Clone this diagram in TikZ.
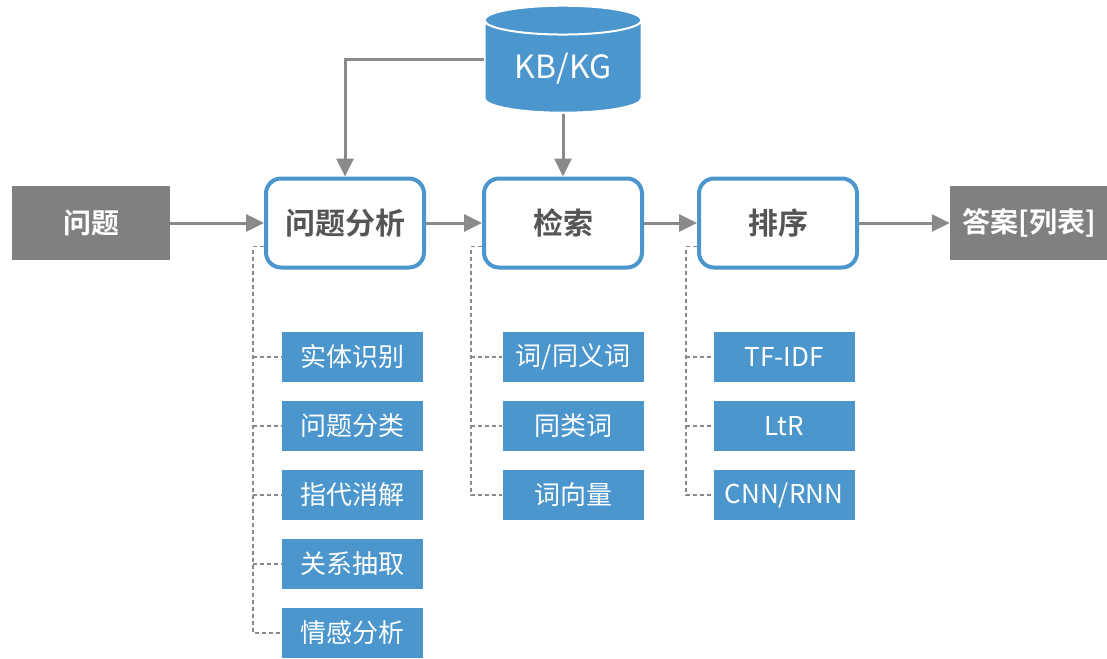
\documentclass[tikz,border=0pt]{standalone}
\usepackage{fontspec}
\usetikzlibrary{arrows.meta,shapes.geometric}
\setmainfont{Noto Sans CJK SC}[BoldFont={Noto Sans CJK SC Bold}]
\definecolor{kbblue}{HTML}{4A96CD}
\definecolor{boxgray}{HTML}{808080}
\definecolor{linegray}{HTML}{8A8A8A}
\definecolor{textgray}{HTML}{555555}
\tikzset{
    step-box/.style = {draw=kbblue, fill=white, line width=4pt, rectangle, rounded corners=15pt, minimum width=158pt, minimum height=89pt, text=textgray, font=\fontsize{30}{30}\selectfont\bfseries},
    io-box/.style = {fill=boxgray, rectangle, minimum width=158pt, minimum height=74pt, text=white, font=\fontsize{28}{28}\selectfont\bfseries},
    sub-box/.style = {fill=kbblue, rectangle, minimum width=141pt, minimum height=50pt, text=white, font=\fontsize{26}{26}\selectfont},
    kb-store/.style = {cylinder, shape border rotate=90, aspect=0.28, fill=kbblue, draw=white, line width=2pt, minimum width=157pt, minimum height=107pt, text=white, font=\fontsize{32}{32}\selectfont},
    flow-arrow/.style = {draw=linegray, line width=3pt, -{Triangle[length=18pt,width=17pt]}},
    tree-line/.style = {draw=linegray, line width=1.3pt, dash pattern=on 4pt off 3pt},
}
\begin{document}
\begin{tikzpicture}[x=1pt, y=-1pt]
\useasboundingbox (0,0) rectangle (1107,658);

% main flow
\node[io-box] (question) at (91,223) {问题};
\node[step-box] (analysis) at (345,223) {问题分析};
\node[step-box] (retrieval) at (563,223) {检索};
\node[step-box] (ranking) at (778,223) {排序};
\node[io-box] (answer) at (1029,223) {答案[列表]};
\node[kb-store] (kb) at (563,69) {KB/KG};

\draw[flow-arrow] (question) -- (analysis);
\draw[flow-arrow] (analysis) -- (retrieval);
\draw[flow-arrow] (retrieval) -- (ranking);
\draw[flow-arrow] (ranking) -- (answer);
\draw[flow-arrow] ([yshift=9pt]kb.west) -| (analysis.north);
\draw[flow-arrow] (kb.south) -- (retrieval.north);

% sub tasks
\node[sub-box] (ana-1) at (352,357) {实体识别};
\node[sub-box] (ana-2) at (352,426) {问题分类};
\node[sub-box] (ana-3) at (352,495) {指代消解};
\node[sub-box] (ana-4) at (352,564) {关系抽取};
\node[sub-box] (ana-5) at (352,633) {情感分析};

\node[sub-box] (ret-1) at (573,357) {词/同义词};
\node[sub-box] (ret-2) at (573,426) {同类词};
\node[sub-box] (ret-3) at (573,495) {词向量};

\node[sub-box] (rank-1) at (784,357) {TF-IDF};
\node[sub-box] (rank-2) at (784,426) {LtR};
\node[sub-box] (rank-3) at (784,495) {CNN/RNN};

\coordinate (ana-trunk) at ([xshift=-11pt,yshift=23pt]analysis.south west);
\coordinate (ret-trunk) at ([xshift=-11pt,yshift=23pt]retrieval.south west);
\coordinate (rank-trunk) at ([xshift=-11pt,yshift=23pt]ranking.south west);

\draw[tree-line] ([yshift=23pt]analysis.south west) -- (ana-trunk) |- (ana-5.west);
\draw[tree-line] (ana-trunk |- ana-1.west) -- (ana-1.west);
\draw[tree-line] (ana-trunk |- ana-2.west) -- (ana-2.west);
\draw[tree-line] (ana-trunk |- ana-3.west) -- (ana-3.west);
\draw[tree-line] (ana-trunk |- ana-4.west) -- (ana-4.west);

\draw[tree-line] ([yshift=23pt]retrieval.south west) -- (ret-trunk) |- (ret-3.west);
\draw[tree-line] (ret-trunk |- ret-1.west) -- (ret-1.west);
\draw[tree-line] (ret-trunk |- ret-2.west) -- (ret-2.west);

\draw[tree-line] ([yshift=23pt]ranking.south west) -- (rank-trunk) |- (rank-3.west);
\draw[tree-line] (rank-trunk |- rank-1.west) -- (rank-1.west);
\draw[tree-line] (rank-trunk |- rank-2.west) -- (rank-2.west);
\end{tikzpicture}
\end{document}
